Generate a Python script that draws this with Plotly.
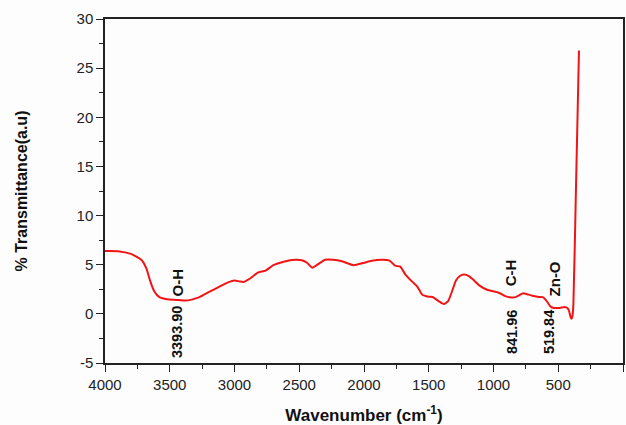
import plotly.graph_objects as go

wavenumber = [4000, 3900, 3800, 3720, 3680, 3650, 3620, 3580, 3520, 3450, 3380, 3330, 3270,
              3200, 3120, 3050, 3000, 2960, 2930, 2880, 2820, 2760, 2700, 2620, 2530, 2480,
              2440, 2400, 2360, 2300, 2240, 2170, 2080, 2000, 1940, 1860, 1800, 1760, 1720,
              1680, 1630, 1590, 1550, 1500, 1470, 1440, 1400, 1380, 1350, 1320, 1290, 1260,
              1230, 1190, 1150, 1110, 1050, 960, 910, 860, 830, 800, 770, 740, 700, 650, 620,
              595, 560, 540, 490, 450, 430, 418, 405, 398, 390, 383, 365, 340]
transmittance = [6.4, 6.38, 6.1, 5.5, 4.6, 3.3, 2.3, 1.7, 1.48, 1.42, 1.35, 1.45, 1.7,
                 2.2, 2.75, 3.2, 3.4, 3.3, 3.25, 3.6, 4.2, 4.4, 4.95, 5.3, 5.5, 5.45,
                 5.2, 4.7, 5.0, 5.5, 5.5, 5.35, 4.95, 5.2, 5.4, 5.5, 5.4, 4.9, 4.8,
                 4.0, 3.3, 2.8, 1.95, 1.75, 1.72, 1.45, 1.1, 1.0, 1.3, 2.3, 3.4, 3.85,
                 4.0, 3.85, 3.4, 2.9, 2.45, 2.15, 1.8, 1.66, 1.7, 1.9, 2.1, 2.0, 1.85, 1.72, 1.7,
                 1.4, 0.75, 0.62, 0.6, 0.7, 0.6, 0.35, -0.3, -0.5, -0.2, 1.0, 11.6, 26.8]

peak_labels = ["O-H", "C-H", "Zn-O"]
peak_label_x = [3444, 867, 533]
peak_label_y = [3.2, 4.2, 3.6]
peak_values = ["3393.90", "841.96", "519.84"]
peak_value_x = [3444, 857, 571]
peak_value_y = [-1.85, -1.85, -1.85]

x_ticks = [4000, 3500, 3000, 2500, 2000, 1500, 1000, 500, 0]
y_ticks = [-5, 0, 5, 10, 15, 20, 25, 30]

FONT = "Liberation Sans, Arial, sans-serif"

fig = go.Figure()
fig.add_trace(go.Scatter(
    x=wavenumber, y=transmittance, mode="lines",
    line=dict(color="#f01414", width=2, shape="spline", smoothing=0.5),
    showlegend=False, hoverinfo="skip"))

for t, x, y in zip(peak_labels, peak_label_x, peak_label_y):
    fig.add_annotation(x=x, y=y, text="<b>%s</b>" % t, textangle=-90, showarrow=False,
                       font=dict(family=FONT, size=15, color="#111"))
for t, x, y in zip(peak_values, peak_value_x, peak_value_y):
    fig.add_annotation(x=x, y=y, text="<b>%s</b>" % t, textangle=-90, showarrow=False,
                       font=dict(family=FONT, size=14.5, color="#111"))

axis_common = dict(showgrid=False, zeroline=False, showline=True, linecolor="#222",
                   linewidth=1.5, mirror=True, ticks="outside", ticklen=7, tickwidth=1.3,
                   tickcolor="#222", automargin=False,
                   tickfont=dict(family=FONT, size=15, color="#222"))

fig.update_xaxes(range=[4000, 0], tickvals=x_ticks, ticktext=[str(v) for v in x_ticks],
                 minor=dict(dtick=250, ticks="outside", ticklen=4, tickcolor="#222"),
                 title=dict(text="<b>Wavenumber (cm<sup>-1</sup>)</b>", standoff=20,
                            font=dict(family=FONT, size=17, color="#111")),
                 **axis_common)
fig.update_yaxes(range=[-5, 30], tickvals=y_ticks, ticktext=[str(v) for v in y_ticks],
                 minor=dict(dtick=2.5, ticks="outside", ticklen=4, tickcolor="#222"),
                 title=dict(text="<b>% Transmittance(a.u)</b>", standoff=45,
                            font=dict(family=FONT, size=16, color="#111")),
                 **axis_common)

fig.update_layout(width=626, height=425, template="none",
                  margin=dict(l=105, r=3, t=19, b=62),
                  paper_bgcolor="#fdfdfd", plot_bgcolor="#fdfdfd")

fig.write_html("out.html")
